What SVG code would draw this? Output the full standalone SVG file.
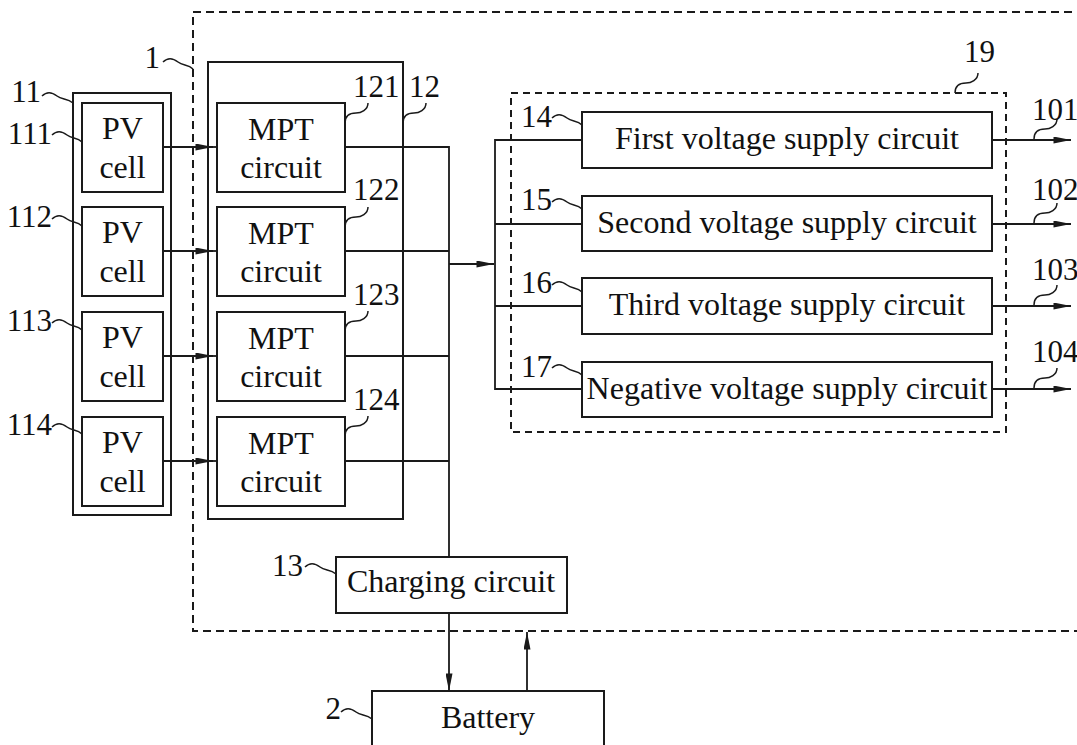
<svg xmlns="http://www.w3.org/2000/svg" width="1077" height="745" viewBox="0 0 1077 745">
<style>
.bx{fill:#fff;stroke:#1a1a1a;stroke-width:2}
.grp{fill:none;stroke:#1a1a1a;stroke-width:2}
.dash{fill:none;stroke:#1a1a1a;stroke-width:2;stroke-dasharray:8 5}
.dash2{fill:none;stroke:#1a1a1a;stroke-width:2;stroke-dasharray:7 5}
.ln{fill:none;stroke:#1a1a1a;stroke-width:1.8}
.sq{fill:none;stroke:#1a1a1a;stroke-width:1.5}
.t{font-family:"Times New Roman","Liberation Serif","DejaVu Serif",Tinos,serif;font-size:32px;text-anchor:middle;fill:#111}
.n{font-family:"Times New Roman","Liberation Serif","DejaVu Serif",Tinos,serif;font-size:31px;fill:#111}
</style>
<defs>
<marker id="ar" viewBox="0 0 20 8" refX="20" refY="4" markerWidth="20" markerHeight="7" markerUnits="userSpaceOnUse" orient="auto">
<path d="M0,0 L20,4 L0,8 z" fill="#1a1a1a"/>
</marker>
</defs>

<g id="system1">
<path class="dash" d="M1085,12 H193 V631 H1085"/>
<text class="n" x="160" y="68" text-anchor="end">1</text>
<path class="sq" d="M163,62 c5,-5 10,-4 15,0 s10,2 15,7"/>
</g>

<g id="pvgroup11">
<rect class="grp" x="73" y="93" width="98" height="422"/>
<text class="n" x="41" y="102" text-anchor="end">11</text>
<path class="sq" d="M42,96 c5,-5 10,-4 15,0 s10,2 16,7"/>
</g>

<g id="mptgroup12">
<rect class="grp" x="208" y="62" width="195" height="457"/>
<text class="n" x="409" y="97">12</text>
<path class="sq" d="M403,123 c0,-8 6,-10 11,-10 s12,-3 12,-10"/>
</g>

<g id="pv111">
<rect class="bx" x="82" y="103" width="81" height="89"/>
<text class="t" x="122.5" y="139">PV</text>
<text class="t" x="122.5" y="178">cell</text>
<text class="n" x="52" y="144" text-anchor="end">111</text>
<path class="sq" d="M52,135 c5,-5 10,-4 15,0 s10,2 15,7"/>
</g>
<g id="pv112">
<rect class="bx" x="82" y="207" width="81" height="89"/>
<text class="t" x="122.5" y="243">PV</text>
<text class="t" x="122.5" y="282">cell</text>
<text class="n" x="52" y="227" text-anchor="end">112</text>
<path class="sq" d="M52,219 c5,-5 10,-4 15,0 s10,2 15,7"/>
</g>
<g id="pv113">
<rect class="bx" x="82" y="312" width="81" height="89"/>
<text class="t" x="122.5" y="348">PV</text>
<text class="t" x="122.5" y="387">cell</text>
<text class="n" x="52" y="331" text-anchor="end">113</text>
<path class="sq" d="M52,323 c5,-5 10,-4 15,0 s10,2 15,7"/>
</g>
<g id="pv114">
<rect class="bx" x="82" y="417" width="81" height="89"/>
<text class="t" x="122.5" y="453">PV</text>
<text class="t" x="122.5" y="492">cell</text>
<text class="n" x="52" y="435" text-anchor="end">114</text>
<path class="sq" d="M52,427 c5,-5 10,-4 15,0 s10,2 15,7"/>
</g>

<g id="mpt121">
<rect class="bx" x="217" y="103" width="128" height="89"/>
<text class="t" x="281" y="140">MPT</text>
<text class="t" x="281" y="178">circuit</text>
<text class="n" x="353" y="97">121</text>
<path class="sq" d="M345,123 c0,-8 6,-10 11,-10 s12,-3 12,-10"/>
</g>
<g id="mpt122">
<rect class="bx" x="217" y="207" width="128" height="89"/>
<text class="t" x="281" y="244">MPT</text>
<text class="t" x="281" y="282">circuit</text>
<text class="n" x="353" y="200">122</text>
<path class="sq" d="M345,227 c0,-8 6,-10 11,-10 s12,-3 12,-10"/>
</g>
<g id="mpt123">
<rect class="bx" x="217" y="312" width="128" height="89"/>
<text class="t" x="281" y="349">MPT</text>
<text class="t" x="281" y="387">circuit</text>
<text class="n" x="353" y="305">123</text>
<path class="sq" d="M345,331 c0,-8 6,-10 11,-10 s12,-3 12,-10"/>
</g>
<g id="mpt124">
<rect class="bx" x="217" y="417" width="128" height="89"/>
<text class="t" x="281" y="454">MPT</text>
<text class="t" x="281" y="492">circuit</text>
<text class="n" x="353" y="410">124</text>
<path class="sq" d="M345,436 c0,-8 6,-10 11,-10 s12,-3 12,-10"/>
</g>

<g id="group19">
<rect class="dash2" x="511" y="93" width="495" height="339"/>
<text class="n" x="964" y="62">19</text>
<path class="sq" d="M955,93 c0,-8 6,-10 11,-10 s12,-3 12,-10"/>
</g>

<g id="v14">
<rect class="bx" x="582" y="112" width="410" height="56"/>
<text class="t" x="787" y="149">First voltage supply circuit</text>
<text class="n" x="521" y="127">14</text>
<path class="sq" d="M552,118 c5,-5 10,-4 15,0 s10,2 15,7"/>
</g>
<g id="v15">
<rect class="bx" x="582" y="196" width="410" height="55"/>
<text class="t" x="787" y="233">Second voltage supply circuit</text>
<text class="n" x="521" y="210">15</text>
<path class="sq" d="M552,202 c5,-5 10,-4 15,0 s10,2 15,7"/>
</g>
<g id="v16">
<rect class="bx" x="582" y="278" width="410" height="56"/>
<text class="t" x="787" y="315">Third voltage supply circuit</text>
<text class="n" x="521" y="293">16</text>
<path class="sq" d="M552,285 c5,-5 10,-4 15,0 s10,2 15,7"/>
</g>
<g id="v17">
<rect class="bx" x="582" y="362" width="410" height="55"/>
<text class="t" x="787" y="399">Negative voltage supply circuit</text>
<text class="n" x="521" y="377">17</text>
<path class="sq" d="M552,368 c5,-5 10,-4 15,0 s10,2 15,7"/>
</g>

<g id="charging13">
<rect class="bx" x="336" y="557" width="231" height="56"/>
<text class="t" x="451" y="592">Charging circuit</text>
<text class="n" x="303" y="576" text-anchor="end">13</text>
<path class="sq" d="M305,567 c5,-5 10,-4 15,0 s10,2 16,7"/>
</g>

<g id="battery2">
<rect class="bx" x="372" y="691" width="232" height="70"/>
<text class="t" x="488" y="728">Battery</text>
<text class="n" x="341" y="719" text-anchor="end">2</text>
<path class="sq" d="M341,712 c5,-5 10,-4 15,0 s10,2 16,7"/>
</g>

<g id="outputs">
<text class="n" x="1032" y="120">101</text>
<path class="sq" d="M1034,139 c0,-8 6,-10 11,-10 s12,-3 12,-10"/>
<text class="n" x="1032" y="200">102</text>
<path class="sq" d="M1034,223 c0,-8 6,-10 11,-10 s12,-3 12,-10"/>
<text class="n" x="1032" y="280">103</text>
<path class="sq" d="M1034,305 c0,-8 6,-10 11,-10 s12,-3 12,-10"/>
<text class="n" x="1032" y="362">104</text>
<path class="sq" d="M1034,388 c0,-8 6,-10 11,-10 s12,-3 12,-10"/>
</g>

<g id="connectors">
<path class="ln" d="M163,147 H213" marker-end="url(#ar)"/>
<path class="ln" d="M212,147 H217"/>
<path class="ln" d="M163,251 H213" marker-end="url(#ar)"/>
<path class="ln" d="M212,251 H217"/>
<path class="ln" d="M163,356 H213" marker-end="url(#ar)"/>
<path class="ln" d="M212,356 H217"/>
<path class="ln" d="M163,461 H213" marker-end="url(#ar)"/>
<path class="ln" d="M212,461 H217"/>
<path class="ln" d="M345,147 H449 V557"/>
<path class="ln" d="M345,251 H449"/>
<path class="ln" d="M345,356 H449"/>
<path class="ln" d="M345,461 H449"/>
<path class="ln" d="M449,264 H494" marker-end="url(#ar)"/>
<path class="ln" d="M582,140 H495 V389 H582"/>
<path class="ln" d="M495,224 H582"/>
<path class="ln" d="M495,306 H582"/>
<path class="ln" d="M992,140 H1071" marker-end="url(#ar)"/>
<path class="ln" d="M992,224 H1071" marker-end="url(#ar)"/>
<path class="ln" d="M992,306 H1071" marker-end="url(#ar)"/>
<path class="ln" d="M992,389 H1071" marker-end="url(#ar)"/>
<path class="ln" d="M449,613 V691" marker-end="url(#ar)"/>
<path class="ln" d="M527,691 V632" marker-end="url(#ar)"/>
</g>
</svg>
